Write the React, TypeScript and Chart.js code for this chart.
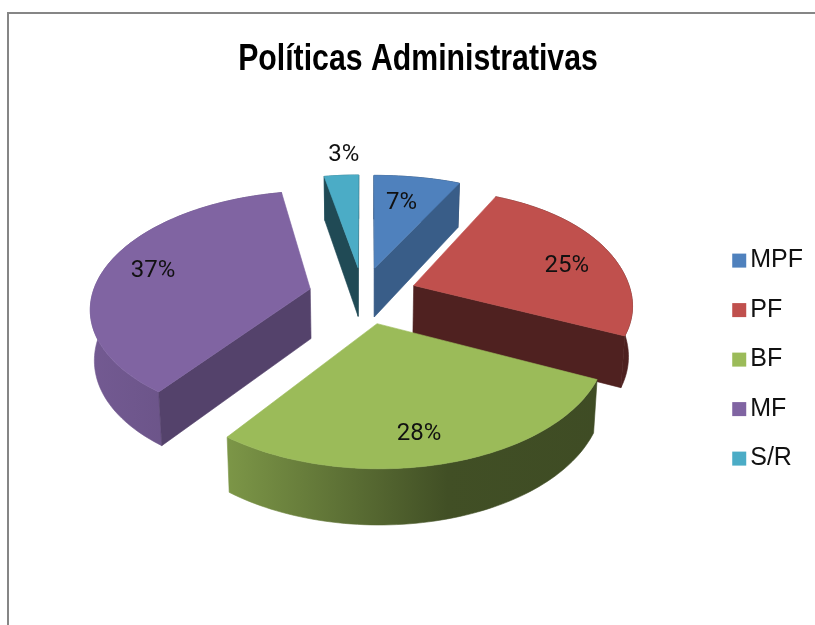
import React, { useEffect, useRef } from "react";
import { Chart, registerables } from "chart.js";

Chart.register(...registerables);

const categories = ["MPF", "PF", "BF", "MF", "S/R"];
const shares = [7, 25, 28, 37, 3];
const sliceColours = ["#4f81bd", "#c0504d", "#9bbb59", "#8064a2", "#4bacc6"];
const wallShades = [0.72, 0.41, 0.6, 0.66, 0.43];
const labelRadii = [0.71, 0.76, 0.79, 0.775, 1.28];
const labelTurns = [-1.5, 5, 3, 1, 1.6];

// Tilted-pie projection parameters
const CENTRE_X = 363;
const CENTRE_Y = 295;
const SCALE_X = 218;
const SCALE_Y = 114;
const PERSPECTIVE = 0.149;
const BACK_RIGHT_EASE = 0.07;
const THICKNESS = 50;
const EXPLODE = 0.25;
const TITLE_SQUEEZE = 0.84;

function shade(hex: string, f: number) {
  const n = parseInt(hex.slice(1), 16);
  const r = Math.round(((n >> 16) & 255) * f);
  const g = Math.round(((n >> 8) & 255) * f);
  const b = Math.round((n & 255) * f);
  return `rgb(${r},${g},${b})`;
}

function project(u: number, v: number, z: number) {
  const s = 1 / (1 - PERSPECTIVE * v);
  // The far right quarter narrows less than the rest of the disc
  const sx = v < 0 && u > 0 ? 1 + PERSPECTIVE * v + BACK_RIGHT_EASE * v * v : s;
  return {
    x: CENTRE_X + SCALE_X * u * sx * (1 - 0.015 * z),
    y: CENTRE_Y + SCALE_Y * v * s + z * THICKNESS * (1 + 0.1 * v),
  };
}

function fillPolygon(ctx: CanvasRenderingContext2D, pts: { x: number; y: number }[], fill: any) {
  ctx.beginPath();
  pts.forEach((p, i) => (i ? ctx.lineTo(p.x, p.y) : ctx.moveTo(p.x, p.y)));
  ctx.closePath();
  ctx.fillStyle = fill;
  ctx.strokeStyle = fill;
  ctx.lineWidth = 0.6;
  ctx.fill();
  ctx.stroke();
}

// A radial wall shows only when the slice's top face lies on the far side of it from the drop.
function wallFaces(tip: any, corner: any, arcMid: any) {
  const ex = corner.x - tip.x;
  const ey = corner.y - tip.y;
  const toMid = ex * (arcMid.y - tip.y) - ey * (arcMid.x - tip.x);
  const toDrop = ex;
  return toMid * toDrop < 0;
}

// Replaces the flat arcs with extruded wedges built from each arc element's angles.
const tiltedPie = {
  id: "tiltedPie",
  beforeDraw(chart: any) {
    // The heading is set in a condensed width, so its block draws under a horizontal squeeze.
    const block = chart.titleBlock;
    if (block && !block.squeezed) {
      const draw = block.draw.bind(block);
      block.draw = (area: any) => {
        const ctx: CanvasRenderingContext2D = chart.ctx;
        const cx = block.left + block.width / 2;
        ctx.save();
        ctx.translate(cx, 0);
        ctx.scale(TITLE_SQUEEZE, 1);
        ctx.translate(-cx, 0);
        draw(area);
        ctx.restore();
      };
      block.squeezed = true;
    }
  },
  beforeDatasetsDraw(chart: any) {
    const ctx: CanvasRenderingContext2D = chart.ctx;
    const arcs = chart.getDatasetMeta(0).data.map((el: any, index: number) => {
      const { startAngle, endAngle } = el.getProps(["startAngle", "endAngle"], true);
      return { index, startAngle, endAngle, mid: (startAngle + endAngle) / 2 };
    });
    arcs.sort((a: any, b: any) => Math.sin(a.mid) - Math.sin(b.mid));

    for (const { index, startAngle, endAngle, mid } of arcs) {
      const colour = sliceColours[index];
      const ou = Math.cos(mid) * EXPLODE;
      const ov = Math.sin(mid) * EXPLODE;
      const rim: [number, number][] = [];
      const steps = Math.max(8, Math.ceil((endAngle - startAngle) * 40));
      for (let i = 0; i <= steps; i++) {
        const a = startAngle + ((endAngle - startAngle) * i) / steps;
        rim.push([ou + Math.cos(a), ov + Math.sin(a)]);
      }
      const at = (z: number) => rim.map(([u, v]) => project(u, v, z));
      const tip = (z: number) => project(ou, ov, z);
      const top = at(0);
      const bottom = at(1);
      const arcMid = top[Math.floor(steps / 2)];

      const gradient = ctx.createLinearGradient(90, 0, 640, 0);
      gradient.addColorStop(0, shade(colour, 0.9));
      gradient.addColorStop(0.25, shade(colour, 0.8));
      gradient.addColorStop(0.65, shade(colour, 0.42));
      gradient.addColorStop(1, shade(colour, 0.4));

      fillPolygon(ctx, [...top, ...bottom.slice().reverse()], gradient);
      for (const end of [0, steps]) {
        if (wallFaces(tip(0), top[end], arcMid)) {
          fillPolygon(ctx, [tip(0), top[end], bottom[end], tip(1)], shade(colour, wallShades[index]));
        }
      }
      fillPolygon(ctx, [tip(0), ...top], colour);
    }

    // Percentage labels sit near each slice's mid-angle
    ctx.save();
    ctx.font = "24px Roboto";
    ctx.fillStyle = "#111";
    ctx.textAlign = "center";
    ctx.textBaseline = "middle";
    for (const { index, mid } of arcs) {
      const r = labelRadii[index];
      const a = mid + (labelTurns[index] * Math.PI) / 180;
      const p = project(
        Math.cos(mid) * EXPLODE + Math.cos(a) * r,
        Math.sin(mid) * EXPLODE + Math.sin(a) * r,
        0
      );
      ctx.fillText(`${shares[index]}%`, p.x, p.y + 2);
    }
    ctx.restore();
    return false;
  },
  afterDraw(chart: any) {
    // Legend swatches are wider than the gap the legend reserves before its text
    const legend = chart.legend;
    const ctx: CanvasRenderingContext2D = chart.ctx;
    legend.legendItems.forEach((item: any, i: number) => {
      const box = legend.legendHitBoxes[i];
      ctx.fillStyle = item.fillStyle;
      ctx.fillRect(box.left, box.top + box.height / 2 - 7, 14, 14);
    });
  },
};

export default function App() {
  const ref = useRef<HTMLCanvasElement>(null);

  useEffect(() => {
    const chart = new Chart(ref.current!, {
      type: "pie",
      data: {
        labels: categories,
        datasets: [{ data: shares, backgroundColor: sliceColours, borderWidth: 0 }],
      },
      options: {
        responsive: false,
        animation: false,
        layout: { padding: { left: 23, right: 2, top: 38, bottom: 0 } },
        plugins: {
          title: {
            display: true,
            text: "Políticas Administrativas",
            color: "#000",
            font: { family: '"Liberation Sans"', size: 36, weight: "bold" },
            padding: { top: 0, bottom: 13 },
          },
          legend: {
            position: "right",
            fullSize: false,
            labels: {
              color: "#111",
              font: { family: '"Liberation Sans"', size: 25 },
              boxWidth: 5.5,
              boxHeight: 0,
              padding: 24.5,
            },
          },
          tooltip: { enabled: false },
        },
      },
      plugins: [tiltedPie],
    } as any);
    return () => chart.destroy();
  }, []);

  return (
    <div style={{ position: "fixed", left: 0, top: 0, width: 815, height: 625, overflow: "hidden", background: "#fff" }}>
      <div
        style={{
          position: "absolute",
          left: 7,
          top: 12,
          width: 830,
          height: 640,
          borderTop: "2px solid #868686",
          borderLeft: "2px solid #868686",
        }}
      />
      <canvas ref={ref} width={815} height={625} style={{ position: "absolute", left: 0, top: 0, display: "block" }} />
    </div>
  );
}
